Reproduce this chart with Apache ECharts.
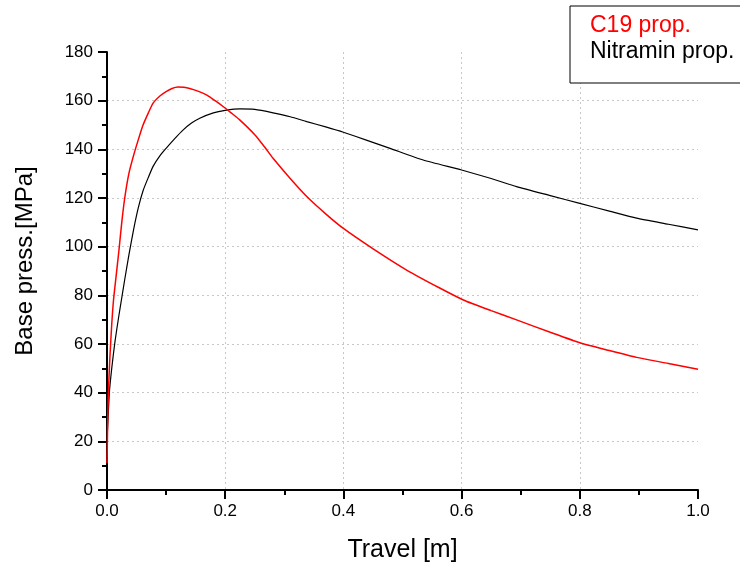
<!DOCTYPE html>
<html>
<head>
<meta charset="utf-8">
<style>
  html, body { margin: 0; padding: 0; background: #fff; }
  #chart { width: 740px; height: 563px; }
</style>
<script src="https://cdn.jsdelivr.net/npm/echarts@6/dist/echarts.min.js"></script>
</head>
<body>
<div id="chart"></div>
<script>
// Series names
const seriesNames = ['C19 prop.', 'Nitramin prop.'];

// C19 propellant: travel [m] and base pressure [MPa]
const c19Travel = [0, 0.002, 0.005, 0.008, 0.011, 0.015, 0.02, 0.025, 0.03, 0.037, 0.045, 0.053, 0.061, 0.07, 0.078, 0.09, 0.1, 0.11, 0.12, 0.13, 0.14, 0.155, 0.169, 0.183, 0.197, 0.21, 0.225, 0.25, 0.265, 0.281, 0.31, 0.338, 0.37, 0.4, 0.451, 0.507, 0.563, 0.603, 0.65, 0.693, 0.75, 0.8, 0.85, 0.896, 0.95, 1.0];
const c19Press  = [11, 38, 55, 68, 78, 87, 98, 110, 120, 130, 137.5, 144, 150, 155, 159, 162, 163.7, 165, 165.6, 165.5, 165, 163.8, 162.3, 160, 157.5, 155, 152, 146, 141.5, 136.3, 128, 120.6, 113.5, 107.5, 99, 90.4, 83, 78.1, 73.7, 69.9, 64.8, 60.5, 57.3, 54.5, 52, 49.6];

// Nitramin propellant: travel [m] and base pressure [MPa]
const nitTravel = [0, 0.004, 0.008, 0.0135, 0.02, 0.025, 0.03, 0.037, 0.045, 0.053, 0.061, 0.07, 0.078, 0.09, 0.1, 0.115, 0.129, 0.143, 0.157, 0.18, 0.2, 0.225, 0.25, 0.281, 0.31, 0.338, 0.37, 0.4, 0.44, 0.479, 0.535, 0.6, 0.65, 0.693, 0.75, 0.8, 0.85, 0.896, 0.95, 1.0];
const nitPress  = [20, 40, 50, 61, 71.5, 79, 86.5, 96.5, 107, 116, 123, 128.5, 133, 137.5, 140.4, 144.5, 148, 150.8, 152.8, 155, 156, 156.6, 156.4, 155, 153.4, 151.4, 149.2, 147, 143.7, 140.4, 135.6, 131.5, 128, 124.7, 121, 117.8, 114.6, 111.7, 109.2, 106.9];

const zip = (xs, ys) => xs.map((x, i) => [x, ys[i]]);

const chart = echarts.init(document.getElementById('chart'), null, { renderer: 'canvas' });
const fontFamily = '"Liberation Sans", Arial, Helvetica, sans-serif';

chart.setOption({
  backgroundColor: '#ffffff',
  animation: false,
  textStyle: { fontFamily: fontFamily },
  grid: { left: 107, right: 42, top: 52, bottom: 73, containLabel: false, outerBoundsMode: 'none' },
  legend: {
    orient: 'vertical',
    left: 570,
    top: 6,
    padding: [8, 20, 20, 15],
    itemWidth: 0,
    itemHeight: 22,
    itemGap: 3,
    icon: 'none',
    borderColor: '#000',
    borderWidth: 1,
    backgroundColor: '#fff',
    selectedMode: false,
    textStyle: { fontSize: 23, fontFamily: fontFamily },
    data: [
      { name: seriesNames[0], textStyle: { color: '#ff0000' } },
      { name: seriesNames[1], textStyle: { color: '#000000' } }
    ]
  },
  xAxis: {
    type: 'value',
    min: 0, max: 1.0, interval: 0.2,
    name: 'Travel [m]',
    nameLocation: 'middle',
    nameGap: 48,
    nameTextStyle: { fontSize: 25, color: '#000', fontFamily: fontFamily },
    axisLine: { show: true, onZero: false, lineStyle: { color: '#000', width: 2 } },
    axisTick: { show: true, inside: false, length: 9, lineStyle: { color: '#000', width: 2 } },
    minorTick: { show: true, splitNumber: 2, length: 5, lineStyle: { color: '#000', width: 2 } },
    axisLabel: { fontSize: 17, color: '#000', margin: 13, formatter: v => v.toFixed(1) },
    splitLine: { show: true, showMinLine: false, showMaxLine: false, lineStyle: { color: '#c8c8c8', type: [2, 3], width: 1 } }
  },
  yAxis: {
    type: 'value',
    min: 0, max: 180, interval: 20,
    name: 'Base press.[MPa]',
    nameLocation: 'middle',
    nameGap: 70,
    nameTextStyle: { fontSize: 24, color: '#000', fontFamily: fontFamily, padding: [0, 0, 0, 20] },
    axisLine: { show: true, onZero: false, lineStyle: { color: '#000', width: 2 } },
    axisTick: { show: true, inside: false, length: 9, lineStyle: { color: '#000', width: 2 } },
    minorTick: { show: true, splitNumber: 2, length: 5, lineStyle: { color: '#000', width: 2 } },
    axisLabel: { fontSize: 17, color: '#000', margin: 14 },
    splitLine: { show: true, showMinLine: false, showMaxLine: false, lineStyle: { color: '#c8c8c8', type: [2, 3], width: 1 } }
  },
  series: [
    {
      name: seriesNames[0],
      type: 'line',
      data: zip(c19Travel, c19Press),
      showSymbol: false,
      smooth: 0.2,
      lineStyle: { color: '#ff0000', width: 1.5 },
      itemStyle: { color: '#ff0000' },
      z: 3
    },
    {
      name: seriesNames[1],
      type: 'line',
      data: zip(nitTravel, nitPress),
      showSymbol: false,
      smooth: 0.2,
      lineStyle: { color: '#000000', width: 1.2 },
      itemStyle: { color: '#000000' },
      z: 2
    }
  ]
});
</script>
</body>
</html>
